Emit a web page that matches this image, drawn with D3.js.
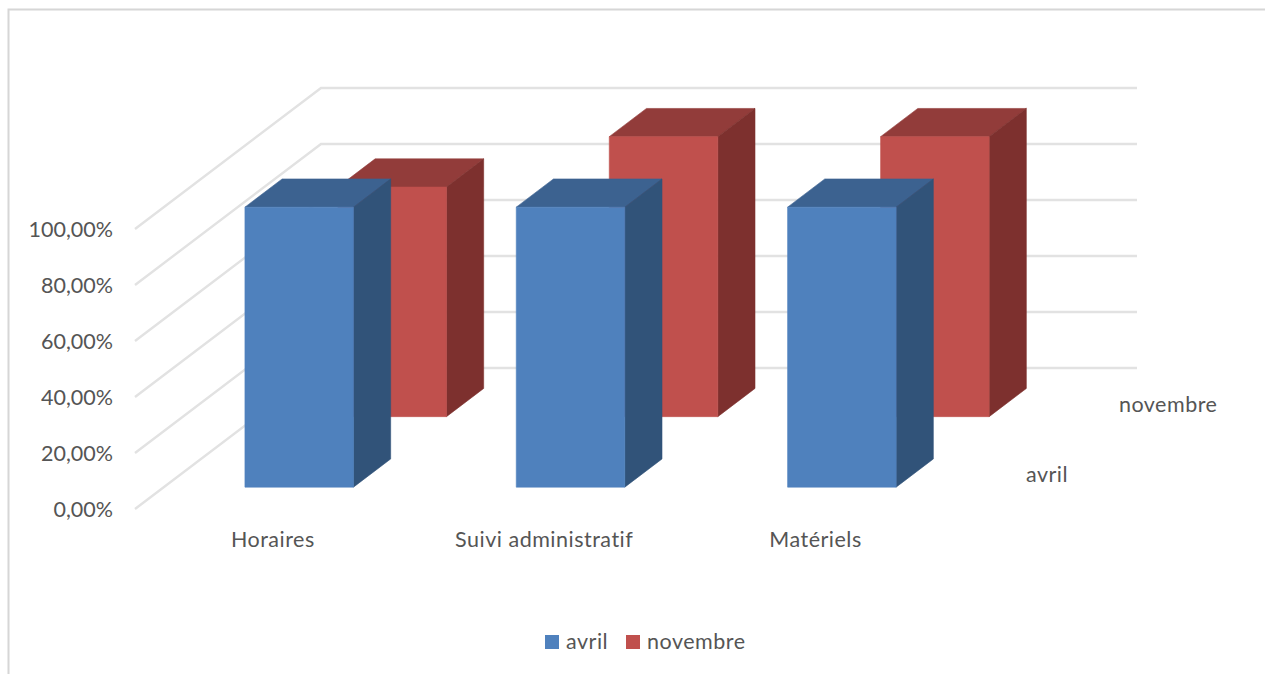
<!DOCTYPE html>
<html><head><meta charset="utf-8">
<script src="https://cdn.jsdelivr.net/npm/d3@7"></script>
<style>
html,body{margin:0;padding:0;background:#fff;overflow:hidden}
svg{display:block}
text{font-family:Lato,"Open Sans",sans-serif;fill:#555;font-size:21.5px}
text.wide{letter-spacing:0.5px}
</style></head><body>
<svg id="c" width="1265" height="674"></svg>
<script>
const categories = ["Horaires","Suivi administratif","Matériels"];
const seriesNames = ["avril","novembre"];
const avril = [100,100,100];
const novembre = [82,100,100];
const yTicks = [0,20,40,60,80,100];
const tickLabels = ["0,00%","20,00%","40,00%","60,00%","80,00%","100,00%"];
const faceColors = {avril:"#4f81bd",novembre:"#c0504d"};
const topColors = {avril:"#3c6290",novembre:"#923c3a"};
const sideColors = {avril:"#315379",novembre:"#7d302e"};

const svg = d3.select("#c");
const x = d3.scaleBand().domain(categories).range([-0.3,813.7]).paddingInner(0.6).paddingOuter(0.3);
const y = d3.scaleLinear().domain([0,100]).range([0,-280]);
const z = d3.scaleBand().domain(seriesNames).range([0.005,1.005]).paddingInner(0.6).paddingOuter(0.3);
const O = {x:135,y:509}, D = {x:186,y:-141};
const P = (xv,yv,t)=>[O.x+xv+t*D.x, O.y+yv+t*D.y];
const poly = pts=>pts.map(p=>p.join(",")).join(" ");

svg.append("path").attr("d","M8.5,674V9.5H1265").attr("fill","none").attr("stroke","#d6d6d6").attr("stroke-width",2);

// gridlines on side wall and back wall
const grid = svg.append("g").attr("fill","none").attr("stroke","#e2e2e2").attr("stroke-width",2.4);
grid.selectAll("polyline").data(yTicks).join("polyline")
  .attr("points",d=>poly([P(0,y(d),0),P(0,y(d),1),P(816,y(d),1)]));

// value axis labels
svg.append("g").selectAll("text").data(yTicks).join("text")
  .attr("text-anchor","end").attr("x",113).attr("y",d=>O.y+y(d)+7.5)
  .text((d,i)=>tickLabels[i]);

// bars, back series first
const values = {avril,novembre};
const face = (g,color,pts)=>g.append("polygon").attr("fill",color).attr("stroke",color).attr("stroke-width",0.6).attr("points",poly(pts));
[...seriesNames].reverse().forEach(s=>{
  const t0=z(s), t1=t0+z.bandwidth();
  const g=svg.append("g");
  categories.forEach((c,i)=>{
    const a=x(c), b=a+x.bandwidth(), h=y(values[s][i]);
    face(g,topColors[s],[P(a,h,t0),P(b,h,t0),P(b,h,t1),P(a,h,t1)]);
    face(g,sideColors[s],[P(b,0,t0),P(b,h,t0),P(b,h,t1),P(b,0,t1)]);
    face(g,faceColors[s],[P(a,0,t0),P(b,0,t0),P(b,h,t0),P(a,h,t0)]);
  });
});

// category labels
svg.append("g").selectAll("text").data(categories).join("text").attr("class","wide")
  .attr("text-anchor","middle").attr("x",c=>O.x+x(c)+x.bandwidth()/2+2.5).attr("y",547).text(c=>c);

// depth labels
svg.append("g").selectAll("text").data(seriesNames).join("text").attr("class","wide")
  .attr("x",s=>P(816,0,z(s)+z.bandwidth()/2)[0]+27.5)
  .attr("y",s=>P(816,0,z(s)+z.bandwidth()/2)[1]+9).text(s=>s);

// legend
const legendX = {avril:545,novembre:626};
const lg = svg.append("g").selectAll("g").data(seriesNames).join("g").attr("transform",s=>`translate(${legendX[s]},635)`);
lg.append("rect").attr("width",14).attr("height",14).attr("fill",s=>faceColors[s]);
lg.append("text").attr("class","wide").attr("x",21).attr("y",13.5).text(s=>s);
</script></body></html>
